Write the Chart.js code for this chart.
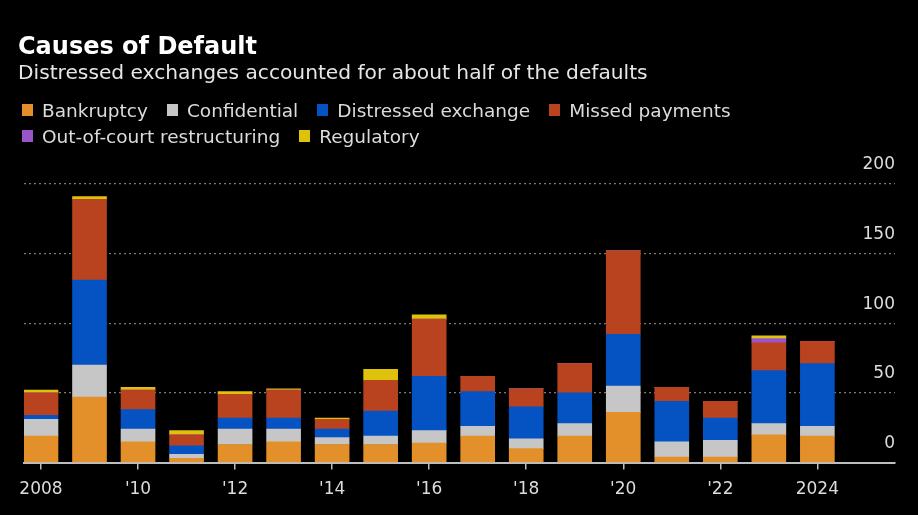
<!DOCTYPE html>
<html>
<head>
<meta charset="utf-8">
<script src="https://cdn.jsdelivr.net/npm/chart.js@4"></script>
<style>
  html, body { margin: 0; padding: 0; background: #000; }
  #wrap { position: relative; width: 918px; height: 515px; background: #000; overflow: hidden; }
  #chart { position: absolute; left: 0; top: 0; }
  .title { position: absolute; left: 18px; top: 32px; font: bold 24px "DejaVu Sans", sans-serif; line-height: 28px; color: #fff; white-space: nowrap; }
  .subtitle { position: absolute; left: 18px; top: 60px; font: 20.2px "DejaVu Sans", sans-serif; line-height: 24px; color: #e6e6e6; white-space: nowrap; }
  #legend { position: absolute; left: 22px; top: 97px; width: 780px; display: flex; flex-wrap: wrap; font: 18.5px "DejaVu Sans", sans-serif; color: #dcdcdc; }
  .item { display: flex; align-items: center; height: 26px; margin-right: 19px; white-space: nowrap; }
  .sw { width: 11px; height: 12px; margin-right: 9px; }
</style>
</head>
<body>
<div id="wrap">
  <canvas id="chart" width="918" height="515"></canvas>
  <div class="title">Causes of Default</div>
  <div class="subtitle">Distressed exchanges accounted for about half of the defaults</div>
  <div id="legend"></div>
</div>
<script>
const years        = [2008,2009,2010,2011,2012,2013,2014,2015,2016,2017,2018,2019,2020,2021,2022,2023,2024];
const bankruptcy   = [19, 47, 15, 3, 13, 15, 13, 13, 14, 19, 10, 19, 36,  4,  4, 20, 19];
const confidential = [12, 23,  9, 3, 11,  9,  5,  6,  9,  7,  7,  9, 19, 11, 12,  8,  7];
const distressed   = [ 3, 61, 14, 6,  8,  8,  6, 18, 39, 25, 23, 22, 37, 29, 16, 38, 45];
const missed       = [16, 58, 14, 8, 17, 20,  7, 22, 41, 11, 13, 21, 60, 10, 12, 20, 16];
const outOfCourt   = [ 0,  0,  0, 0,  0,  0,  0,  0,  0,  0,  0,  0,  0,  0,  0,  3,  0];
const regulatory   = [ 2,  2,  2, 3,  2,  1,  1,  8,  3,  0,  0,  0,  0,  0,  0,  2,  0];

const seriesNames  = ["Bankruptcy", "Confidential", "Distressed exchange", "Missed payments", "Out-of-court restructuring", "Regulatory"];
const seriesValues = [bankruptcy, confidential, distressed, missed, outOfCourt, regulatory];
const seriesColors = ["#E3902A", "#C6C6C6", "#0552C2", "#B8431E", "#9A56C9", "#DEC20C"];

const xTickYears = [2008, 2010, 2012, 2014, 2016, 2018, 2020, 2022, 2024];
const yTicks = [0, 50, 100, 150, 200];

function yearLabel(v) {
  if (v === 2008 || v === 2024) return String(v);
  return "'" + String(v).slice(2);
}

// legend
const legend = document.getElementById('legend');
seriesNames.forEach((n, i) => {
  const it = document.createElement('div');
  it.className = 'item';
  const sw = document.createElement('span');
  sw.className = 'sw';
  sw.style.background = seriesColors[i];
  const tx = document.createElement('span');
  tx.textContent = n;
  it.appendChild(sw); it.appendChild(tx);
  legend.appendChild(it);
});

const datasets = seriesNames.map((n, i) => ({
  label: n,
  data: years.map((y, j) => ({ x: y, y: seriesValues[i][j] })),
  backgroundColor: seriesColors[i],
  borderWidth: 0,
  barThickness: 34,
  stack: 's'
}));

new Chart(document.getElementById('chart'), {
  type: 'bar',
  data: { datasets },
  options: {
    responsive: false,
    animation: false,
    events: [],
    layout: { padding: { top: 184, left: 24, right: 23, bottom: 5 } },
    plugins: { legend: { display: false }, title: { display: false }, tooltip: { enabled: false } },
    scales: {
      x: {
        type: 'linear',
        stacked: true,
        offset: false,
        min: 2007.65,
        max: 2025.6,
        afterBuildTicks: (scale) => { scale.ticks = xTickYears.map(v => ({ value: v })); },
        ticks: {
          color: '#dcdcdc',
          font: { family: 'DejaVu Sans', size: 17 },
          padding: 10,
          maxRotation: 0,
          autoSkip: false,
          callback: (v) => yearLabel(v)
        },
        grid: { offset: false, drawOnChartArea: false, drawTicks: true, tickLength: 7, color: '#bdbdbd', lineWidth: 1.5 },
        border: { display: true, color: '#bdbdbd', width: 2 }
      },
      y: {
        position: 'right',
        stacked: true,
        min: 0,
        max: 200,
        afterBuildTicks: (scale) => { scale.ticks = yTicks.map(v => ({ value: v })); },
        ticks: {
          mirror: true,
          padding: 0,
          labelOffset: -19,
          color: '#dcdcdc',
          font: { family: 'DejaVu Sans', size: 17 }
        },
        grid: {
          drawTicks: false,
          color: (c) => (c.tick && c.tick.value === 0) ? 'rgba(0,0,0,0)' : '#7a7a7a',
          lineWidth: 1.2
        },
        border: { display: false, dash: [2, 3] }
      }
    }
  }
});
</script>
</body>
</html>
